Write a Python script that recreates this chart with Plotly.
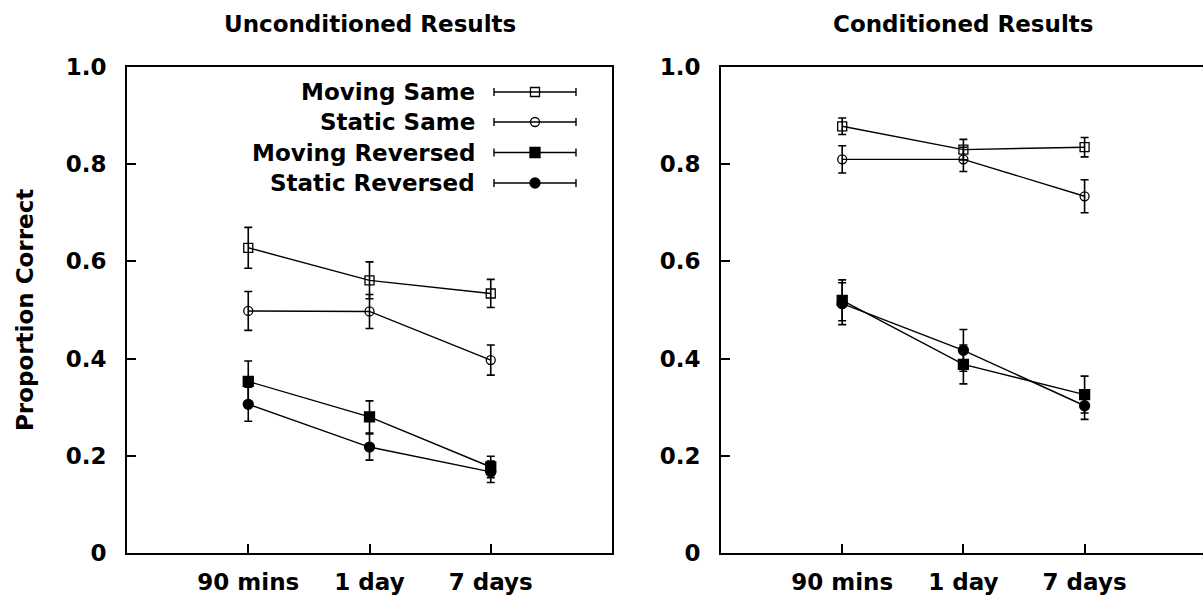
import plotly.graph_objects as go

# ---------------- data ----------------
categories = ["90 mins", "1 day", "7 days"]
series_names = ["Moving Same", "Static Same", "Moving Reversed", "Static Reversed"]
series_symbols = ["square-open", "circle-open", "square", "circle"]
panel_titles = ["Unconditioned Results", "Conditioned Results"]
y_label = "Proportion Correct"
y_tick_vals = [0, 0.2, 0.4, 0.6, 0.8, 1.0]
y_tick_text = ["0", "0.2", "0.4", "0.6", "0.8", "1.0"]

# Unconditioned results
uncond_moving_same = [0.628, 0.561, 0.534]
uncond_moving_same_err = [0.042, 0.038, 0.029]
uncond_static_same = [0.498, 0.497, 0.397]
uncond_static_same_err = [0.040, 0.035, 0.031]
uncond_moving_reversed = [0.353, 0.280, 0.177]
uncond_moving_reversed_err = [0.042, 0.033, 0.022]
uncond_static_reversed = [0.306, 0.218, 0.167]
uncond_static_reversed_err = [0.035, 0.027, 0.022]

# Conditioned results
cond_moving_same = [0.878, 0.830, 0.835]
cond_moving_same_err = [0.017, 0.021, 0.020]
cond_static_same = [0.810, 0.810, 0.734]
cond_static_same_err = [0.028, 0.025, 0.034]
cond_moving_reversed = [0.520, 0.388, 0.326]
cond_moving_reversed_err = [0.042, 0.040, 0.038]
cond_static_reversed = [0.513, 0.417, 0.303]
cond_static_reversed_err = [0.043, 0.043, 0.028]

uncond = [
    (uncond_moving_same, uncond_moving_same_err),
    (uncond_static_same, uncond_static_same_err),
    (uncond_moving_reversed, uncond_moving_reversed_err),
    (uncond_static_reversed, uncond_static_reversed_err),
]
cond = [
    (cond_moving_same, cond_moving_same_err),
    (cond_static_same, cond_static_same_err),
    (cond_moving_reversed, cond_moving_reversed_err),
    (cond_static_reversed, cond_static_reversed_err),
]

# ---------------- layout geometry (pixels) ----------------
W, H = 1203, 603
FONT = "DejaVu Sans"
FS = 23


def px_x(p):
    return p / W


def px_y(p):
    return 1 - p / H


fig = go.Figure()

for data, xa, ya in [(uncond, "x", "y"), (cond, "x2", "y2")]:
    for (vals, errs), name, sym in zip(data, series_names, series_symbols):
        filled = not sym.endswith("open")
        fig.add_trace(go.Scatter(
            x=categories, y=vals, name=name, xaxis=xa, yaxis=ya,
            mode="lines+markers", showlegend=False,
            line=dict(color="black", width=1.4),
            marker=dict(symbol=sym, size=10 if filled else 9, color="black",
                        line=dict(color="black", width=1.3)),
            error_y=dict(type="data", array=errs, visible=True,
                         color="black", thickness=1.6, width=4),
        ))

axis_common = dict(
    showline=True, linecolor="black", linewidth=2,
    ticks="inside", ticklen=9, tickwidth=1.5, tickcolor="black",
    showgrid=False, zeroline=False,
    tickfont=dict(family=FONT, size=FS, color="black", weight="bold"),
    automargin=False,
)

fig.update_layout(
    width=W, height=H,
    margin=dict(l=0, r=0, t=0, b=0),
    plot_bgcolor="white", paper_bgcolor="white",
    xaxis=dict(domain=[px_x(127), px_x(612)], range=[-1, 3], mirror=True,
               ticklabelstandoff=7, **axis_common),
    yaxis=dict(domain=[px_y(553), px_y(67)], range=[0, 1], mirror=True,
               tickvals=y_tick_vals, ticktext=y_tick_text,
               ticklabelstandoff=14, **axis_common),
    xaxis2=dict(domain=[px_x(721), 1.0], range=[-1, 2.977], mirror=True,
                anchor="y2", ticklabelstandoff=7, **axis_common),
    yaxis2=dict(domain=[px_y(553), px_y(67)], range=[0, 1], mirror=False,
                anchor="x2", tickvals=y_tick_vals, ticktext=y_tick_text,
                ticklabelstandoff=14, **axis_common),
    showlegend=False,
)

annotations = []
# panel titles
for title, cx in zip(panel_titles, [370, 963]):
    annotations.append(dict(
        text=title, x=px_x(cx), y=px_y(24), xref="paper", yref="paper",
        xanchor="center", yanchor="middle", showarrow=False,
        font=dict(family=FONT, size=FS, color="black", weight="bold"),
    ))
# y axis title
annotations.append(dict(
    text=y_label, x=px_x(25), y=px_y(310), xref="paper", yref="paper",
    xanchor="center", yanchor="middle", showarrow=False, textangle=-90,
    font=dict(family=FONT, size=FS, color="black", weight="bold"),
))

# manual legend inside left panel
shapes = []
legend_rows = [92, 122, 152.5, 183]
line_x0, line_x1, mark_x = 494, 576, 535
for name, sym, ry in zip(series_names, series_symbols, legend_rows):
    annotations.append(dict(
        text=name, x=px_x(477), y=px_y(ry), xref="paper", yref="paper",
        xanchor="right", yanchor="middle", showarrow=False,
        font=dict(family=FONT, size=FS, color="black", weight="bold"),
    ))
    shapes.append(dict(type="line", xref="paper", yref="paper",
                       x0=px_x(line_x0), x1=px_x(line_x1), y0=px_y(ry), y1=px_y(ry),
                       line=dict(color="black", width=1.4)))
    for ex in (line_x0, line_x1):
        shapes.append(dict(type="line", xref="paper", yref="paper",
                           x0=px_x(ex), x1=px_x(ex), y0=px_y(ry - 4), y1=px_y(ry + 4),
                           line=dict(color="black", width=1.4)))
    filled = not sym.endswith("open")
    half = 5 if filled else 4.5
    shapes.append(dict(
        type="rect" if sym.startswith("square") else "circle",
        xref="paper", yref="paper", xsizemode="pixel", ysizemode="pixel",
        xanchor=px_x(mark_x), yanchor=px_y(ry),
        x0=-half, x1=half, y0=-half, y1=half,
        fillcolor="black" if filled else "rgba(0,0,0,0)",
        line=dict(color="black", width=1.3),
    ))

fig.update_layout(annotations=annotations, shapes=shapes)

fig.write_html(
    "out.html",
    config={"displayModeBar": False},
    post_script="document.body.style.margin='0';document.body.style.overflow='hidden';",
)
